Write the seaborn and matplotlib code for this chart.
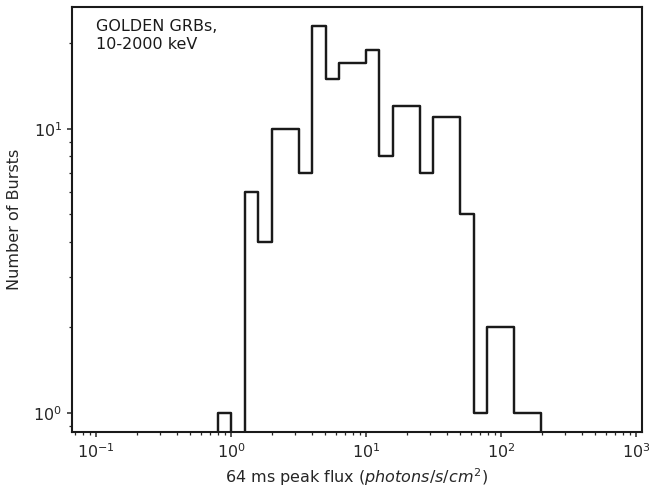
import numpy as np
import pandas as pd
import matplotlib
matplotlib.use("Agg")
import matplotlib.pyplot as plt
import seaborn as sns

# Peak-flux bin edges (photons/s/cm^2), 0.1 dex wide, with an empty bin at each end
bin_edges = [0.631, 0.794, 1.0, 1.259, 1.585, 1.995, 2.512, 3.162, 3.981, 5.012,
             6.310, 7.943, 10.0, 12.59, 15.85, 19.95, 25.12, 31.62, 39.81,
             50.12, 63.10, 79.43, 100.0, 125.9, 158.5, 199.5, 251.2]
# Number of bursts in each bin
burst_counts = [0, 1, 0, 6, 4, 10, 10, 7, 23, 15, 17, 17, 19, 8, 12, 12, 7,
                11, 11, 5, 1, 2, 2, 1, 1, 0]

edges = np.asarray(bin_edges)
centers = np.sqrt(edges[:-1] * edges[1:])
df = pd.DataFrame({"flux": centers, "count": burst_counts})

sns.set_style("ticks")
plt.rcParams["font.family"] = ["DejaVu Sans"]

fs = 11.5
fig = plt.figure(figsize=(6.49, 4.91), dpi=100)
ax = fig.add_axes([0.111, 0.120, 0.878, 0.866])

sns.histplot(data=df, x="flux", weights="count", bins=list(bin_edges),
             element="step", fill=False, color="#1a1a1a", linewidth=1.75, ax=ax)

ax.set_xscale("log")
ax.set_yscale("log", nonpositive="clip")
ax.set_xlim(10 ** -1.178, 10 ** 3.044)
ax.set_ylim(0.855, 26.9)

for s in ax.spines.values():
    s.set_color("#1a1a1a")
    s.set_linewidth(1.5)

ax.set_xlabel("64 ms peak flux ($photons/s/cm^2$)", fontsize=fs, labelpad=4)
ax.set_ylabel("Number of Bursts", fontsize=fs, labelpad=8)
ax.tick_params(labelsize=fs, width=1.1)
ax.tick_params(which="minor", width=0.9)

ax.text(0.042, 0.971, "GOLDEN GRBs,\n10-2000 keV", transform=ax.transAxes,
        ha="left", va="top", fontsize=fs, color="#1a1a1a", linespacing=1.2)

fig.savefig("out.png", dpi=100)
